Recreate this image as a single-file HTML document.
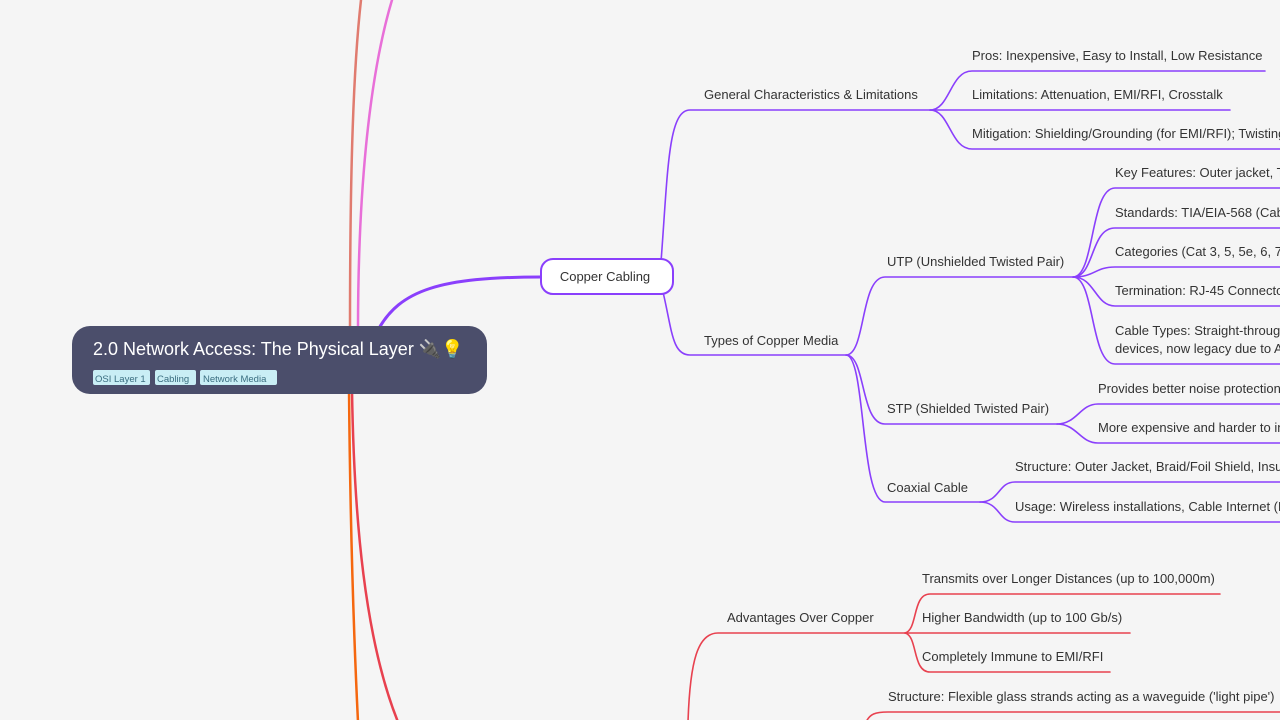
<!DOCTYPE html>
<html><head><meta charset="utf-8"><style>
html,body{margin:0;padding:0;background:#f5f5f5;width:1280px;height:720px;overflow:hidden}
svg{display:block}
text{font-family:"Liberation Sans",sans-serif;font-size:13px;fill:#333}
</style></head><body>
<svg width="1280" height="720" viewBox="0 0 1280 720" xmlns="http://www.w3.org/2000/svg">
<g fill="none" stroke-linecap="round">
<path d="M350,330 C350,200 352,80 361,0" stroke="#e07b6f" stroke-width="2.5"/>
<path d="M358,330 C358,200 368,80 392,0" stroke="#e86fd8" stroke-width="2.5"/>
<path d="M349,390 C350,500 353,620 358,722" stroke="#f5670f" stroke-width="2.5"/>
<path d="M352,390 C354,520 365,640 398,722" stroke="#e8414f" stroke-width="2.5"/>
<path d="M378,330 C400,290 440,277 541,277" stroke="#8a3ffc" stroke-width="3"/>
<g stroke="#8a3ffc" stroke-width="1.6">
<path d="M661,262 C668,170 668,110 690,110 H930"/>
<path d="M663,292 C672,330 672,355 690,355 H846"/>
<path d="M930,110 C950,110 950,71 972,71 H1265"/>
<path d="M930,110 H1230"/>
<path d="M930,110 C950,110 950,149 972,149 H1280"/>
<path d="M846,355 C866,355 860,277 885,277 H1073"/>
<path d="M846,355 C866,355 860,424 885,424 H1057"/>
<path d="M846,355 C866,355 860,502 885,502 H980"/>
<path d="M1073,277 C1095,277 1090,188 1115,188 H1280"/>
<path d="M1073,277 C1095,277 1090,228 1115,228 H1280"/>
<path d="M1073,277 C1095,277 1095,267 1115,267 H1280"/>
<path d="M1073,277 C1095,277 1095,306 1115,306 H1280"/>
<path d="M1073,277 C1095,277 1090,364 1115,364 H1280"/>
<path d="M1057,424 C1077,424 1080,404 1098,404 H1280"/>
<path d="M1057,424 C1077,424 1080,443 1098,443 H1280"/>
<path d="M980,502 C1000,502 998,482 1015,482 H1280"/>
<path d="M980,502 C1000,502 998,522 1015,522 H1280"/>
</g>
<g stroke="#e8414f" stroke-width="1.6">
<path d="M688,722 C690,660 698,633 718,633 H905"/>
<path d="M905,633 C918,630 912,594 930,594 H1220"/>
<path d="M905,633 H1130"/>
<path d="M905,633 C918,636 912,672 930,672 H1110"/>
<path d="M866,722 C870,714 875,712 888,712 H1280"/>
</g>
</g>
<rect x="541" y="259" width="132" height="35" rx="12" fill="#fff" stroke="#8a3ffc" stroke-width="2"/>
<text x="605" y="281" text-anchor="middle">Copper Cabling</text>
<rect x="72" y="326" width="415" height="68" rx="18" fill="#4b4e6b"/>
<text x="93" y="355" style="font-size:18px;fill:#fff">2.0 Network Access: The Physical Layer 🔌💡</text>
<rect x="93" y="370" width="57" height="15" rx="2" fill="#c9eef5"/><text x="95" y="382" style="font-size:9.5px;fill:#3a6e80">OSI Layer 1</text>
<rect x="155" y="370" width="41" height="15" rx="2" fill="#c9eef5"/><text x="157" y="382" style="font-size:9.5px;fill:#3a6e80">Cabling</text>
<rect x="200" y="370" width="77" height="15" rx="2" fill="#c9eef5"/><text x="203" y="382" style="font-size:9.5px;fill:#3a6e80">Network Media</text>
<text x="704" y="99">General Characteristics &amp; Limitations</text>
<text x="972" y="60">Pros: Inexpensive, Easy to Install, Low Resistance</text>
<text x="972" y="99">Limitations: Attenuation, EMI/RFI, Crosstalk</text>
<text x="972" y="138">Mitigation: Shielding/Grounding (for EMI/RFI); Twisting (for crosstalk)</text>
<text x="704" y="345">Types of Copper Media</text>
<text x="887" y="266">UTP (Unshielded Twisted Pair)</text>
<text x="1115" y="177">Key Features: Outer jacket, Twisted pairs</text>
<text x="1115" y="217">Standards: TIA/EIA-568 (Cabling)</text>
<text x="1115" y="256">Categories (Cat 3, 5, 5e, 6, 7, 8)</text>
<text x="1115" y="295">Termination: RJ-45 Connectors</text>
<text x="1115" y="335">Cable Types: Straight-through, Crossover</text>
<text x="1115" y="353">devices, now legacy due to Auto-MDIX</text>
<text x="887" y="413">STP (Shielded Twisted Pair)</text>
<text x="1098" y="393">Provides better noise protection</text>
<text x="1098" y="432">More expensive and harder to install</text>
<text x="887" y="492">Coaxial Cable</text>
<text x="1015" y="471">Structure: Outer Jacket, Braid/Foil Shield, Insulation, Copper conductor</text>
<text x="1015" y="511">Usage: Wireless installations, Cable Internet (DOCSIS)</text>
<text x="727" y="622">Advantages Over Copper</text>
<text x="922" y="583">Transmits over Longer Distances (up to 100,000m)</text>
<text x="922" y="622">Higher Bandwidth (up to 100 Gb/s)</text>
<text x="922" y="661">Completely Immune to EMI/RFI</text>
<text x="888" y="701">Structure: Flexible glass strands acting as a waveguide ('light pipe')</text>
</svg>
</body></html>
